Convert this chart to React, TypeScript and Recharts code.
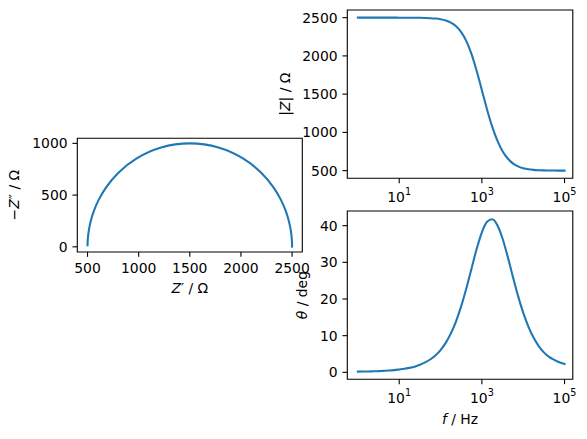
import React from "react";
import { Line, LineChart, ReferenceArea, XAxis, YAxis } from "recharts";

// Impedance of a parallel RC plus series R:
// Nyquist plot on the left, Bode magnitude + phase on the right.

const freqHz = [
  1, 1.334, 1.778, 2.371, 3.162, 4.217, 5.623, 7.499,
  10, 13.34, 17.78, 23.71, 31.62, 42.17, 56.23, 74.99,
  100, 133.4, 177.8, 237.1, 316.2, 421.7, 562.3, 749.9,
  1000, 1334, 1778, 2371, 3162, 4217, 5623, 7499,
  10000, 13340, 17780, 23710, 31620, 42170, 56230, 74990, 100000,
];

const zReal = [
  2500.0, 2499.99, 2499.99, 2499.98, 2499.96, 2499.94, 2499.89, 2499.8,
  2499.64, 2499.37, 2498.88, 2498.0, 2496.45, 2493.7, 2488.82, 2480.2,
  2465.07, 2438.71, 2393.55, 2318.23, 2198.12, 2019.6, 1780.27, 1500.14,
  1219.73, 980.4, 801.88, 681.77, 606.45, 561.29, 534.93, 519.8,
  511.18, 506.3, 503.55, 502.0, 501.12, 500.63, 500.36, 500.2, 500.11,
];

const zImagNeg = [
  2.67, 3.56, 4.74, 6.32, 8.43, 11.25, 15.0, 20.0,
  26.66, 35.55, 47.4, 63.17, 84.18, 112.1, 149.12, 197.99,
  262.0, 344.7, 448.96, 574.89, 715.97, 854.41, 959.92, 1000.0,
  959.92, 854.41, 715.97, 574.89, 448.96, 344.7, 262.0, 197.99,
  149.12, 112.1, 84.18, 63.17, 47.4, 35.55, 26.66, 20.0, 15.0,
];

const zMod = [
  2500.0, 2500.0, 2499.99, 2499.99, 2499.98, 2499.96, 2499.93, 2499.88,
  2499.79, 2499.62, 2499.33, 2498.8, 2497.87, 2496.21, 2493.28, 2488.09,
  2478.95, 2462.95, 2435.29, 2388.45, 2311.79, 2192.89, 2022.58, 1802.89,
  1552.16, 1300.47, 1075.01, 891.8, 754.55, 658.68, 595.65, 556.23,
  532.49, 518.56, 510.54, 505.96, 503.36, 501.89, 501.06, 500.6, 500.34,
];

const phaseDeg = [
  0.2, 0.22, 0.25, 0.28, 0.33, 0.4, 0.48, 0.6,
  0.78, 0.98, 1.22, 1.55, 2.05, 2.7, 3.5, 4.6,
  6.067, 8.045, 10.624, 13.928, 18.041, 22.931, 28.333, 33.688,
  38.202, 41.071, 41.76, 40.138, 36.513, 31.555, 26.095, 20.851,
  16.263, 12.485, 9.491, 7.172, 5.45, 4.2, 3.4, 2.75, 2.3,
];

const reTicks = [500, 1000, 1500, 2000, 2500];
const imTicks = [0, 500, 1000];
const modTicks = [500, 1000, 1500, 2000, 2500];
const phaseTicks = [0, 10, 20, 30, 40];
const freqTicks = [10, 1000, 100000];

const nyquistRows = zReal.map((re, i) => ({ re, im: zImagNeg[i] }));
const bodeRows = freqHz.map((f, i) => ({ f, mag: zMod[i], phase: phaseDeg[i] }));

// figure geometry (px), matplotlib-ish at 100 dpi
const W = 587;
const H = 439;
const FONT = "'DejaVu Sans', sans-serif";
const FS = 13.9;
const TICK_LEN = 4.86;
const PAD = 4.86;
const BLUE = "#1f77b4";
const YAXIS_W = 60;
const XAXIS_H = 40;

const NYQ = { left: 77.3, right: 302.3, top: 138.3, bottom: 252 };
const MAG = { left: 347.3, right: 572.8, top: 10, bottom: 178.3 };
const PHS = { left: 347.3, right: 572.8, top: 211, bottom: 379.3 };

const FREQ_DOMAIN: [number, number] = [Math.pow(10, -0.256), Math.pow(10, 5.2)];

type Box = { left: number; right: number; top: number; bottom: number };

const marginFor = (b: Box) => ({
  top: b.top,
  left: b.left - YAXIS_W,
  right: W - b.right,
  bottom: H - b.bottom - XAXIS_H,
});

function PlainXTick({ x, payload, baseY }: any) {
  return (
    <text x={x} y={baseY} textAnchor="middle" fontFamily={FONT} fontSize={FS} fill="#000">
      {payload.value}
    </text>
  );
}

function LogXTick({ x, payload, baseY }: any) {
  const exp = Math.round(Math.log10(payload.value));
  return (
    <text x={x} y={baseY} textAnchor="middle" fontFamily={FONT} fontSize={FS} fill="#000">
      <tspan>10</tspan>
      <tspan dy={-7} fontSize={9.7}>
        {exp}
      </tspan>
    </text>
  );
}

function LeftTick({ y, payload, rightX }: any) {
  return (
    <text x={rightX} y={y + 5} textAnchor="end" fontFamily={FONT} fontSize={FS} fill="#000">
      {payload.value}
    </text>
  );
}

const tickLineStyle = { stroke: "#000", strokeWidth: 1.1 };

function Frame({ x, y }: { x: [number, number]; y: [number, number] }) {
  return (
    <ReferenceArea
      x1={x[0]}
      x2={x[1]}
      y1={y[0]}
      y2={y[1]}
      fill="none"
      fillOpacity={0}
      stroke="#000"
      strokeWidth={1.1}
      strokeOpacity={1}
      ifOverflow="visible"
    />
  );
}

const layer: React.CSSProperties = { position: "absolute", left: 0, top: 0 };

export default function App() {
  const reDomain: [number, number] = [400, 2600];
  const imDomain: [number, number] = [-50, 1049];
  const modDomain: [number, number] = [400, 2600];
  const phaseDomain: [number, number] = [-1.9, 44.0];

  return (
    <div style={{ position: "absolute", left: 0, top: 0, width: W, height: H, background: "#fff" }}>
      {/* Nyquist */}
      <div style={layer}>
        <LineChart width={W} height={H} data={nyquistRows} margin={marginFor(NYQ)}>
          <XAxis
            dataKey="re"
            type="number"
            domain={reDomain}
            allowDataOverflow
            ticks={reTicks}
            interval={0}
            height={XAXIS_H}
            axisLine={false}
            tickLine={tickLineStyle}
            tickSize={TICK_LEN}
            tickMargin={0}
            tick={<PlainXTick baseY={NYQ.bottom + 20.8} />}
          />
          <YAxis
            type="number"
            domain={imDomain}
            allowDataOverflow
            ticks={imTicks}
            interval={0}
            width={YAXIS_W}
            axisLine={false}
            tickLine={tickLineStyle}
            tickSize={TICK_LEN}
            tickMargin={0}
            tick={<LeftTick rightX={NYQ.left - TICK_LEN - PAD} />}
          />
          <Frame x={reDomain} y={imDomain} />
          <Line
            dataKey="im"
            type="natural"
            stroke={BLUE}
            strokeWidth={2.08}
            strokeLinecap="square"
            dot={false}
            isAnimationActive={false}
          />
        </LineChart>
      </div>

      {/* Bode magnitude */}
      <div style={layer}>
        <LineChart width={W} height={H} data={bodeRows} margin={marginFor(MAG)}>
          <XAxis
            dataKey="f"
            type="number"
            scale="log"
            domain={FREQ_DOMAIN}
            allowDataOverflow
            ticks={freqTicks}
            interval={0}
            height={XAXIS_H}
            axisLine={false}
            tickLine={tickLineStyle}
            tickSize={TICK_LEN}
            tickMargin={0}
            tick={<LogXTick baseY={MAG.bottom + 24} />}
          />
          <YAxis
            type="number"
            domain={modDomain}
            allowDataOverflow
            ticks={modTicks}
            interval={0}
            width={YAXIS_W}
            axisLine={false}
            tickLine={tickLineStyle}
            tickSize={TICK_LEN}
            tickMargin={0}
            tick={<LeftTick rightX={MAG.left - TICK_LEN - PAD} />}
          />
          <Frame x={FREQ_DOMAIN} y={modDomain} />
          <Line
            dataKey="mag"
            type="monotone"
            stroke={BLUE}
            strokeWidth={2.08}
            strokeLinecap="square"
            dot={false}
            isAnimationActive={false}
          />
        </LineChart>
      </div>

      {/* Bode phase */}
      <div style={layer}>
        <LineChart width={W} height={H} data={bodeRows} margin={marginFor(PHS)}>
          <XAxis
            dataKey="f"
            type="number"
            scale="log"
            domain={FREQ_DOMAIN}
            allowDataOverflow
            ticks={freqTicks}
            interval={0}
            height={XAXIS_H}
            axisLine={false}
            tickLine={tickLineStyle}
            tickSize={TICK_LEN}
            tickMargin={0}
            tick={<LogXTick baseY={PHS.bottom + 24} />}
          />
          <YAxis
            type="number"
            domain={phaseDomain}
            allowDataOverflow
            ticks={phaseTicks}
            interval={0}
            width={YAXIS_W}
            axisLine={false}
            tickLine={tickLineStyle}
            tickSize={TICK_LEN}
            tickMargin={0}
            tick={<LeftTick rightX={PHS.left - TICK_LEN - PAD} />}
          />
          <Frame x={FREQ_DOMAIN} y={phaseDomain} />
          <Line
            dataKey="phase"
            type="monotone"
            stroke={BLUE}
            strokeWidth={2.08}
            strokeLinecap="square"
            dot={false}
            isAnimationActive={false}
          />
        </LineChart>
      </div>

      {/* axis titles */}
      <svg width={W} height={H} style={{ ...layer, pointerEvents: "none" }}>
        <g fontFamily={FONT} fontSize={FS} fill="#000">
          <text x={(NYQ.left + NYQ.right) / 2} y={292.5} textAnchor="middle">
            <tspan fontStyle="italic">Z</tspan>′ / Ω
          </text>
          <text transform={`translate(18.7, ${(NYQ.top + NYQ.bottom) / 2}) rotate(-90)`} textAnchor="middle">
            −<tspan fontStyle="italic">Z</tspan>″ / Ω
          </text>
          <text transform={`translate(290.3, ${(MAG.top + MAG.bottom) / 2}) rotate(-90)`} textAnchor="middle">
            |<tspan fontStyle="italic">Z</tspan>| / Ω
          </text>
          <text transform={`translate(306.8, ${(PHS.top + PHS.bottom) / 2}) rotate(-90)`} textAnchor="middle">
            <tspan fontStyle="italic">θ</tspan> / deg
          </text>
          <text x={(PHS.left + PHS.right) / 2} y={424} textAnchor="middle">
            <tspan fontStyle="italic">f</tspan> / Hz
          </text>
        </g>
      </svg>
    </div>
  );
}
